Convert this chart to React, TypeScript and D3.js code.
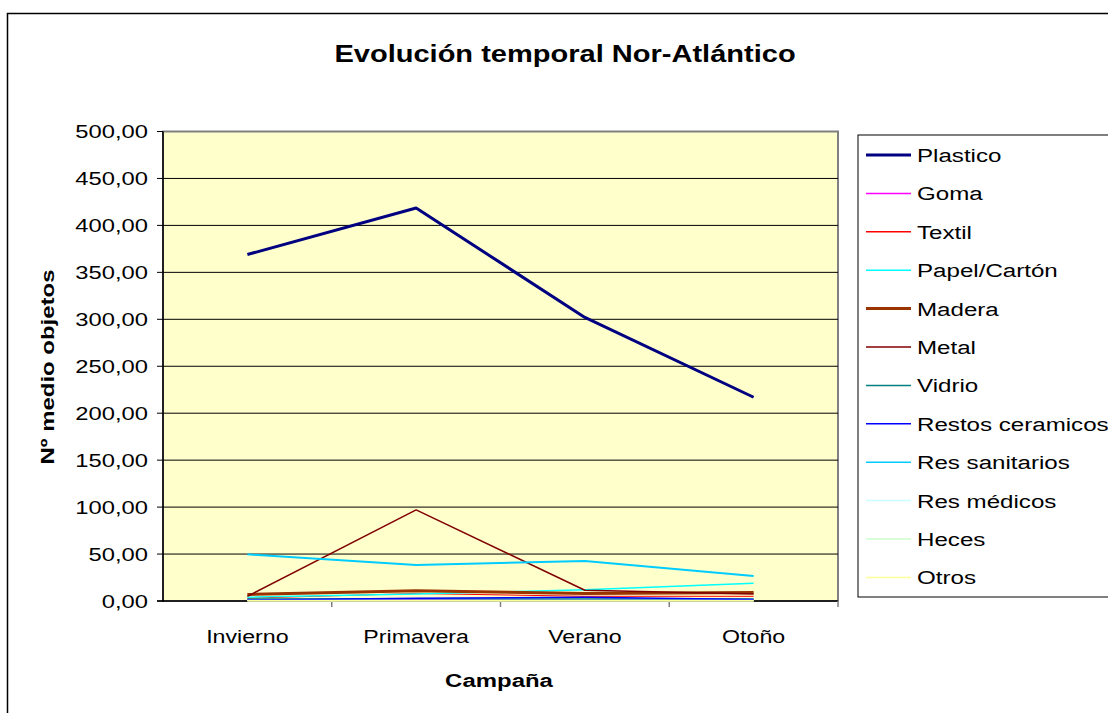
import React from "react";
import * as d3 from "d3";

const categories = ["Invierno", "Primavera", "Verano", "Otoño"];
const yTicks = [0, 50, 100, 150, 200, 250, 300, 350, 400, 450, 500];

const seriesNames = ["Plastico", "Goma", "Textil", "Papel/Cartón", "Madera", "Metal", "Vidrio", "Restos ceramicos", "Res sanitarios", "Res médicos", "Heces", "Otros"];
const plastico = [369, 418.5, 302, 217];
const goma = [1, 1.5, 1, 1];
const textil = [3, 8, 5, 5];
const papel = [4, 7.5, 12, 19];
const madera = [7, 11, 8, 9];
const metal = [5, 97, 11.5, 7.5];
const vidrio = [2, 2.5, 2, 2];
const ceramicos = [1, 3, 4, 1.5];
const sanitarios = [49.7, 38.3, 42.6, 26.6];
const medicos = [0.5, 0.5, 0.5, 0.5];
const heces = [0.2, 0.2, 0.2, 0.2];
const otros = [0.3, 0.3, 0.3, 0.3];

const seriesValues = [plastico, goma, textil, papel, madera, metal, vidrio, ceramicos, sanitarios, medicos, heces, otros];
const seriesColors = ["#000080", "#FF00FF", "#FF0000", "#00FFFF", "#993300", "#800000", "#008080", "#0000FF", "#00CCFF", "#CCFFFF", "#CCFFCC", "#FFFF99"];
const seriesWidths = [3, 1, 1, 1.5, 3, 1.5, 1.5, 1.5, 2, 1.5, 1.5, 1.5];

type TProps = { x: number; y: number; size: number; sx?: number; anchor?: "start" | "middle" | "end"; bold?: boolean; rotate?: number; children: React.ReactNode };
function T({ x, y, size, sx = 1.26, anchor = "start", bold = false, rotate = 0, children }: TProps) {
  return (
    <text
      transform={`translate(${x},${y}) rotate(${rotate}) scale(${sx},1)`}
      textAnchor={anchor}
      fontSize={size}
      fontWeight={bold ? "bold" : "normal"}
    >
      {children}
    </text>
  );
}

export default function App() {
  const W = 1108, H = 713;
  const left = 163, right = 838, top = 131.5, bottom = 601;
  const x = d3.scaleBand<string>().domain(categories).range([left, right]);
  const y = d3.scaleLinear().domain([0, 500]).range([bottom, top]);
  const line = d3.line<number>().x((_, i) => (x(categories[i]) as number) + x.bandwidth() / 2).y((d) => y(d));
  const fmt = (v: number) => d3.format(".2f")(v).replace(".", ",");
  const font = "Liberation Sans, Arial, sans-serif";
  const legX = 858, legY = 135;

  return (
    <div style={{ position: "fixed", left: 0, top: 0 }}>
      <svg width={W} height={H} style={{ display: "block", fontFamily: font }}>
        <rect x={0} y={0} width={W} height={H} fill="#fff" />
        <rect x={7.5} y={13.5} width={W + 20} height={H + 20} fill="none" stroke="#000" strokeWidth={1.5} />
        <T x={565} y={62} size={24} sx={1.21} anchor="middle" bold>Evolución temporal Nor-Atlántico</T>
        <rect x={left} y={top} width={right - left} height={bottom - top} fill="#FFFFCC" stroke="#808080" strokeWidth={2} />
        {yTicks.map((t) => (
          <g key={t}>
            {t > 0 && t < 500 && <line x1={left} x2={right} y1={y(t)} y2={y(t)} stroke="#000" strokeWidth={1} />}
            <line x1={left - 6} x2={left} y1={y(t)} y2={y(t)} stroke="#000" />
            <T x={left - 15} y={y(t) + 6.5} size={19} sx={1.25} anchor="end">{fmt(t)}</T>
          </g>
        ))}
        <line x1={left} x2={left} y1={top} y2={bottom + 1} stroke="#000" strokeWidth={1.5} />
        <line x1={left - 6} x2={right} y1={bottom} y2={bottom} stroke="#000" strokeWidth={1.5} />
        {categories.map((c) => (
          <g key={c}>
            <line x1={(x(c) as number) + x.bandwidth()} x2={(x(c) as number) + x.bandwidth()} y1={bottom} y2={bottom + 6} stroke="#808080" strokeWidth={1.5} />
            <T x={(x(c) as number) + x.bandwidth() / 2} y={643} size={19} sx={1.22} anchor="middle">{c}</T>
          </g>
        ))}
        {seriesValues.map((vals, i) => (
          <path key={seriesNames[i]} d={line(vals) as string} fill="none" stroke={seriesColors[i]} strokeWidth={seriesWidths[i]} strokeLinejoin="round" />
        ))}
        <T x={499} y={687} size={19} sx={1.26} anchor="middle" bold>Campaña</T>
        <T x={54} y={367} size={19} sx={1.26} anchor="middle" bold rotate={-90}>Nº medio objetos</T>
        <rect x={legX} y={legY} width={W} height={462} fill="#fff" stroke="#000" strokeWidth={1} />
        {seriesNames.map((n, i) => {
          const ly = 155 + i * 38.4;
          return (
            <g key={n}>
              <line x1={866} x2={911} y1={ly} y2={ly} stroke={seriesColors[i]} strokeWidth={i === 0 || i === 4 ? 3 : 1.5} />
              <T x={917} y={ly + 7} size={19} sx={1.27}>{n}</T>
            </g>
          );
        })}
      </svg>
    </div>
  );
}
